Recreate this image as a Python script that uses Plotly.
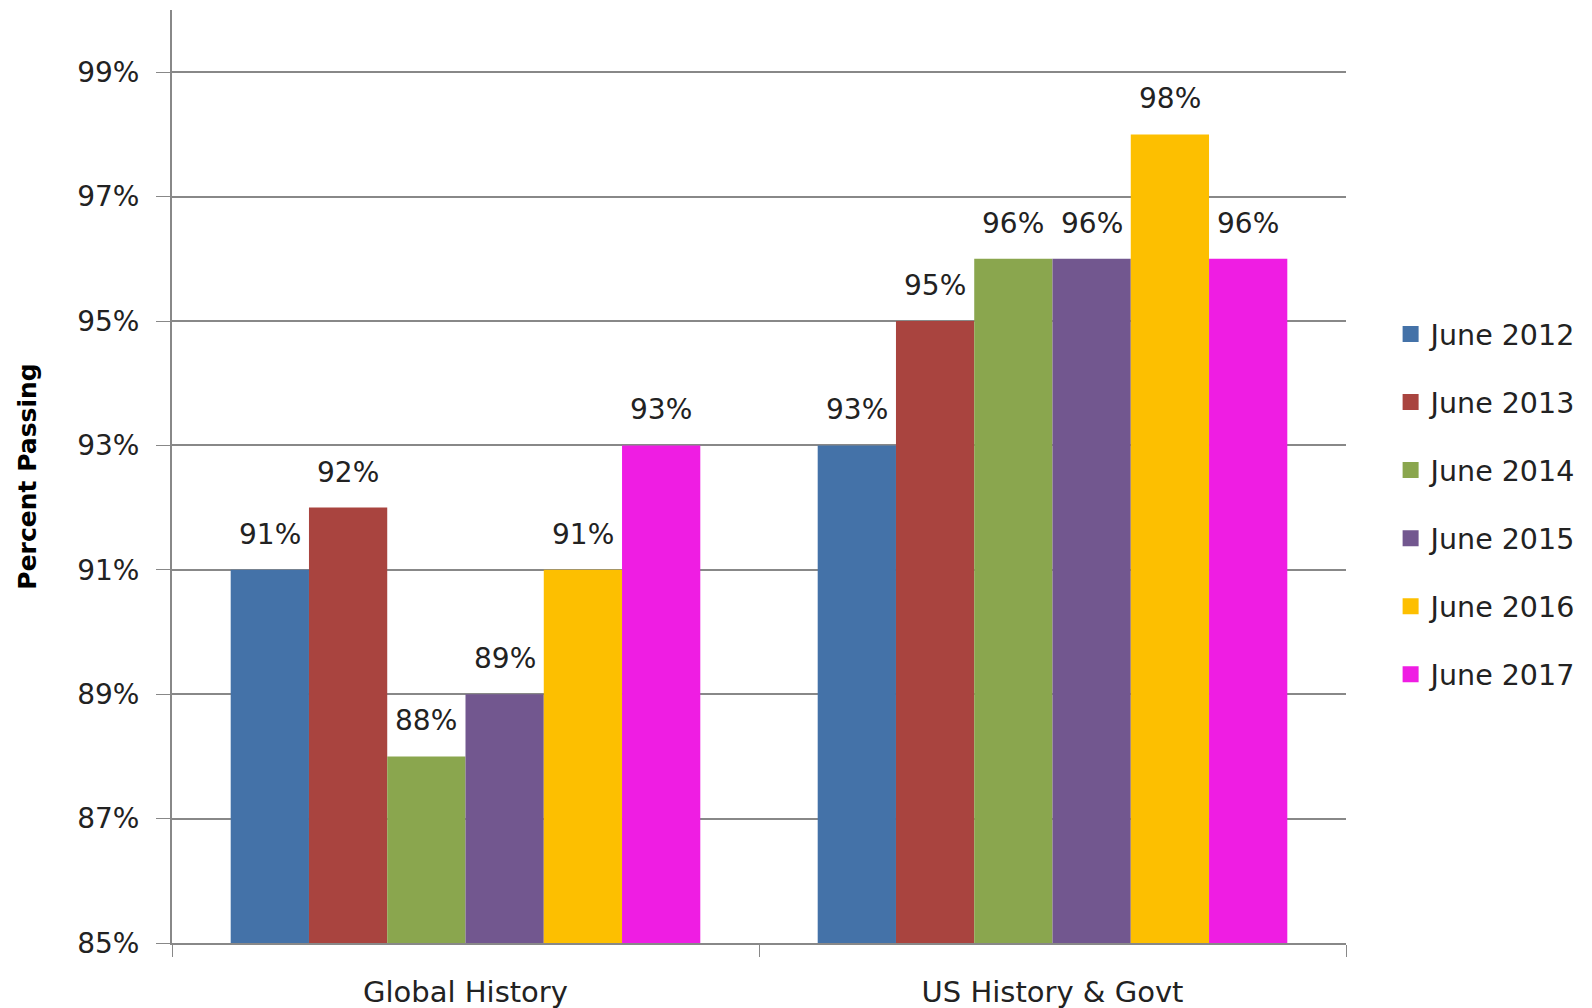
import plotly.graph_objects as go

# data
subjects = ["Global History", "US History & Govt"]
years = ["June 2012", "June 2013", "June 2014", "June 2015", "June 2016", "June 2017"]
june_2012 = [91, 93]
june_2013 = [92, 95]
june_2014 = [88, 96]
june_2015 = [89, 96]
june_2016 = [91, 98]
june_2017 = [93, 96]
tick_vals = [85, 87, 89, 91, 93, 95, 97, 99]
tick_text = ["85%", "87%", "89%", "91%", "93%", "95%", "97%", "99%"]

series = [june_2012, june_2013, june_2014, june_2015, june_2016, june_2017]
colors = ["#4472A8", "#A9443F", "#8AA64E", "#72578F", "#FDBF00", "#EF1DE3"]

FONT = "DejaVu Sans"
BARGAP = 0.2

fig = go.Figure()
annotations = []
n = len(series)
slot = (1 - BARGAP) / n
for i, (name, vals, col) in enumerate(zip(years, series, colors)):
    fig.add_trace(go.Bar(
        x=subjects, y=vals, name=name, showlegend=False,
        marker=dict(color=col, line=dict(width=0)),
    ))
    # legend entry with a bigger square swatch
    fig.add_trace(go.Scatter(
        x=[None], y=[None], mode="markers", name=name, legendgroup=name,
        marker=dict(symbol="square", size=19, color=col),
    ))
    # value labels above each bar (placed through the category axis)
    for j, v in enumerate(vals):
        annotations.append(dict(
            x=j + (i - (n - 1) / 2) * slot, y=v, xref="x", yref="y",
            text=f"{v}%", showarrow=False, yanchor="bottom", yshift=17,
            font=dict(family=FONT, size=28, color="#222222"),
        ))

fig.update_layout(
    width=1592, height=1008,
    margin=dict(l=172, r=240, t=10, b=65),
    paper_bgcolor="white", plot_bgcolor="white",
    barmode="group", bargap=BARGAP, bargroupgap=0,
    font=dict(family=FONT, size=28, color="#222222"),
    annotations=annotations,
    showlegend=True,
    legend=dict(
        x=1.038, xanchor="left", y=0.47, yanchor="middle",
        font=dict(family=FONT, size=28.5, color="#222222"),
        traceorder="grouped", tracegroupgap=28,
        itemwidth=30,
    ),
    xaxis=dict(
        type="category", tickson="boundaries",
        ticks="outside", ticklen=12, tickcolor="#888888",
        showline=True, linecolor="#888888", linewidth=2,
        showgrid=False, ticklabelstandoff=22, automargin=False,
        tickfont=dict(family=FONT, size=29, color="#222222"),
    ),
    yaxis=dict(
        range=[85, 100],
        tickmode="array", tickvals=tick_vals, ticktext=tick_text,
        ticks="outside", ticklen=14, tickcolor="#888888",
        showline=True, linecolor="#888888", linewidth=2,
        showgrid=True, gridcolor="#888888", gridwidth=2,
        zeroline=False, ticklabelstandoff=11, automargin=False,
        tickfont=dict(family=FONT, size=28, color="#222222"),
        title=dict(text="<b>Percent Passing</b>", standoff=33,
                   font=dict(family=FONT, size=25, color="#000000")),
    ),
)

# drop the default 8px body margin so the figure fills the window exactly
fig.write_html("out.html", config={"displayModeBar": False},
               post_script="document.body.style.margin='0';")
